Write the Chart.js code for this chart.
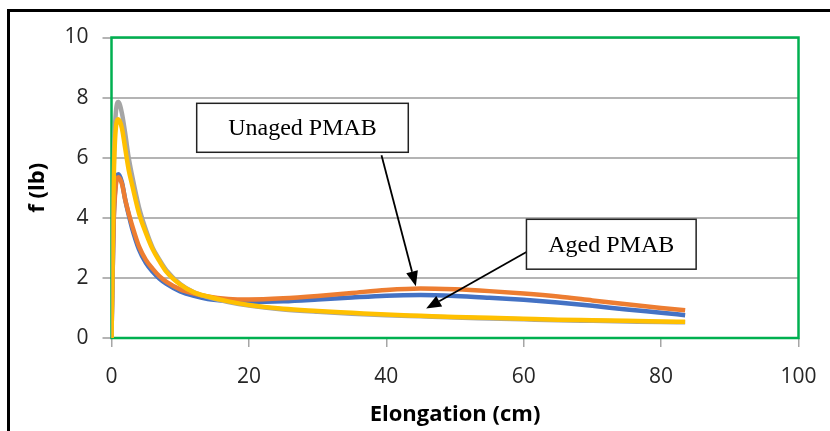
<!DOCTYPE html>
<html>
<head>
<meta charset="utf-8">
<script src="https://cdn.jsdelivr.net/npm/chart.js@4.4.1/dist/chart.umd.min.js"></script>
<style>
  html, body { margin: 0; padding: 0; background: #fff; }
  #wrap { width: 830px; height: 431px; }
</style>
</head>
<body>
<div id="wrap"><canvas id="forceChart" width="830" height="431"></canvas></div>
<script>
// Elongation samples (cm), shared by all four curves
const elongation = [0, 0.3, 0.6, 1.0, 1.5, 2, 2.5, 3, 4, 5, 6, 7, 8, 10, 12, 14, 17, 20, 25, 30, 35, 40, 45, 50, 55, 60, 65, 70, 75, 80, 83.5];

// Force (lb) per sample
const blueForce   = [0, 3.8, 5.1, 5.45, 5.2, 4.6, 4.1, 3.65, 2.95, 2.5, 2.2, 1.97, 1.8, 1.55, 1.4, 1.3, 1.23, 1.2, 1.22, 1.28, 1.35, 1.41, 1.43, 1.4, 1.34, 1.27, 1.18, 1.07, 0.95, 0.84, 0.76];
const orangeForce = [0, 3.7, 5.0, 5.35, 5.15, 4.6, 4.15, 3.75, 3.05, 2.6, 2.3, 2.05, 1.87, 1.62, 1.48, 1.38, 1.3, 1.28, 1.32, 1.4, 1.5, 1.6, 1.65, 1.62, 1.56, 1.48, 1.38, 1.25, 1.12, 1.0, 0.92];
const grayForce   = [0, 5.4, 7.4, 7.85, 7.5, 6.8, 6.0, 5.4, 4.35, 3.6, 3.0, 2.6, 2.25, 1.8, 1.52, 1.36, 1.2, 1.08, 0.95, 0.87, 0.81, 0.76, 0.72, 0.68, 0.65, 0.62, 0.59, 0.57, 0.55, 0.53, 0.52];
const yellowForce = [0, 5.0, 6.9, 7.28, 7.0, 6.3, 5.6, 5.1, 4.15, 3.5, 2.95, 2.55, 2.2, 1.78, 1.52, 1.38, 1.22, 1.1, 0.97, 0.9, 0.84, 0.78, 0.74, 0.7, 0.67, 0.64, 0.61, 0.59, 0.57, 0.55, 0.54];

const xTicks = [0, 20, 40, 60, 80, 100];
const yTicks = [0, 2, 4, 6, 8, 10];

// Callout boxes and arrows, in data units
const callouts = [
    { text: 'Unaged PMAB', box: [12.4, 7.81, 43.2, 6.18], from: [39.3, 6.08], to: [44.3, 1.72] },
    { text: 'Aged PMAB', box: [60.4, 3.95, 85.1, 2.29], from: [60.4, 2.86], to: [45.8, 0.98] }
];

const toPoints = ys => elongation.map((x, i) => ({ x: x, y: ys[i] }));

function makeSeries(ys, color, order) {
    return {
        data: toPoints(ys),
        borderColor: color,
        backgroundColor: color,
        borderWidth: 4.5,
        pointRadius: 0,
        showLine: true,
        fill: false,
        cubicInterpolationMode: 'monotone',
        order: order
    };
}

const frame = {
    id: 'frame',
    beforeDatasetsDraw(chart) {
        const { ctx, chartArea: a } = chart;
        ctx.save();
        ctx.strokeStyle = '#00B050';
        ctx.lineWidth = 2.5;
        ctx.strokeRect(a.left, a.top, a.right - a.left, a.bottom - a.top);
        ctx.restore();
    },
    afterDraw(chart) {
        const { ctx, scales: { x, y } } = chart;
        ctx.save();
        // outer border
        ctx.strokeStyle = '#000';
        ctx.lineWidth = 3;
        ctx.strokeRect(8.5, 10.5, 840, 440);

        callouts.forEach(c => {
            const x0 = x.getPixelForValue(c.box[0]);
            const y0 = y.getPixelForValue(c.box[1]);
            const x1 = x.getPixelForValue(c.box[2]);
            const y1 = y.getPixelForValue(c.box[3]);

            // arrow shaft + head
            const fx = x.getPixelForValue(c.from[0]);
            const fy = y.getPixelForValue(c.from[1]);
            const tx = x.getPixelForValue(c.to[0]);
            const ty = y.getPixelForValue(c.to[1]);
            const ang = Math.atan2(ty - fy, tx - fx);
            const headLen = 15, headW = 6;
            const bx = tx - headLen * Math.cos(ang);
            const by = ty - headLen * Math.sin(ang);
            ctx.strokeStyle = '#000';
            ctx.lineWidth = 1.8;
            ctx.beginPath();
            ctx.moveTo(fx, fy);
            ctx.lineTo(bx, by);
            ctx.stroke();
            ctx.fillStyle = '#000';
            ctx.beginPath();
            ctx.moveTo(tx, ty);
            ctx.lineTo(bx + headW * Math.sin(ang), by - headW * Math.cos(ang));
            ctx.lineTo(bx - headW * Math.sin(ang), by + headW * Math.cos(ang));
            ctx.closePath();
            ctx.fill();

            // box
            ctx.fillStyle = '#fff';
            ctx.fillRect(x0, y0, x1 - x0, y1 - y0);
            ctx.lineWidth = 1.5;
            ctx.strokeStyle = '#222';
            ctx.strokeRect(x0, y0, x1 - x0, y1 - y0);

            ctx.fillStyle = '#000';
            ctx.font = '24px "Liberation Serif", "Times New Roman", serif';
            ctx.textAlign = 'center';
            ctx.textBaseline = 'middle';
            ctx.fillText(c.text, (x0 + x1) / 2, (y0 + y1) / 2 + 1);
        });
        ctx.restore();
    }
};

const tickFont = { family: '"Open Sans", sans-serif', size: 21 };
const titleFont = { family: '"Open Sans", sans-serif', size: 22, weight: 'bold' };

new Chart(document.getElementById('forceChart'), {
    type: 'scatter',
    data: {
        datasets: [
            makeSeries(blueForce, '#4472C4', 3),
            makeSeries(orangeForce, '#ED7D31', 2),
            makeSeries(grayForce, '#A5A5A5', 1),
            makeSeries(yellowForce, '#FFC000', 0)
        ]
    },
    options: {
        responsive: false,
        animation: false,
        layout: { padding: { left: 0, top: 37.5, right: 31.5, bottom: 0 } },
        plugins: { legend: { display: false }, tooltip: { enabled: false } },
        scales: {
            x: {
                type: 'linear',
                min: 0,
                max: 100,
                afterFit(scale) {
                    scale.height = 93;
                    scale.paddingLeft = 0;
                    scale.paddingRight = 0;
                },
                afterBuildTicks(scale) { scale.ticks = xTicks.map(v => ({ value: v })); },
                grid: { drawOnChartArea: false, drawTicks: true, tickLength: 9, color: '#A6A6A6', lineWidth: 1.5 },
                border: { display: false },
                ticks: { color: '#262626', font: tickFont, padding: 17 },
                title: { display: true, text: 'Elongation (cm)', color: '#000', font: titleFont, padding: { top: 0, bottom: 3 } }
            },
            y: {
                type: 'linear',
                min: 0,
                max: 10,
                afterFit(scale) {
                    scale.width = 111.5;
                    scale.paddingTop = 0;
                    scale.paddingBottom = 0;
                },
                afterBuildTicks(scale) { scale.ticks = yTicks.map(v => ({ value: v })); },
                grid: { drawTicks: true, tickLength: 9, color: '#B4B4B4', lineWidth: 2 },
                border: { display: false },
                ticks: { color: '#262626', font: tickFont, padding: 14 },
                title: { display: true, text: 'f (lb)', color: '#000', font: titleFont, padding: { top: 25, bottom: 0 } }
            }
        }
    },
    plugins: [frame]
});
</script>
</body>
</html>
